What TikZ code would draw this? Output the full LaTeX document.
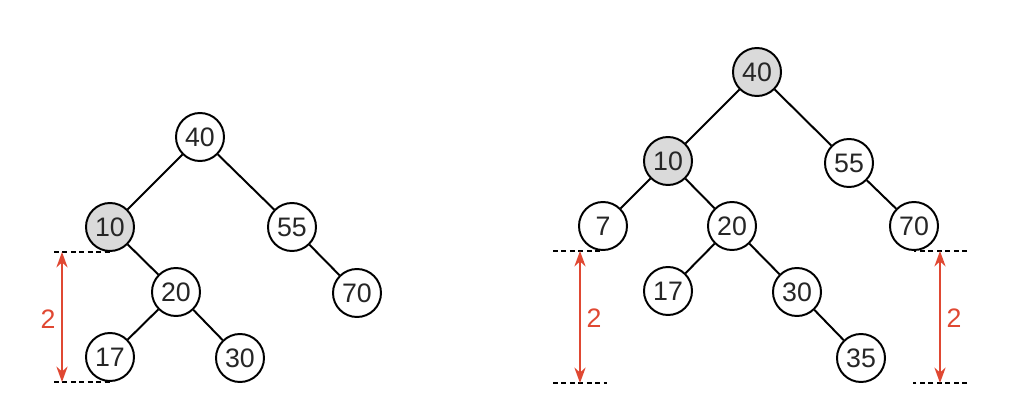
\documentclass[tikz,border=0pt]{standalone}
\usepackage{fontspec}
\setmainfont{Liberation Sans}
\usetikzlibrary{arrows.meta}
\definecolor{hred}{RGB}{224,72,50}
\definecolor{hgray}{RGB}{218,218,218}

\begin{document}
\begin{tikzpicture}[x=0.025cm, y=-0.025cm,
    key/.style={draw, circle, line width=1.4pt, minimum size=1.2cm, inner sep=0pt,
                fill=#1, font=\fontsize{19}{22}\selectfont, text=black!85},
    key/.default=white,
    edge/.style={line width=1.4pt},
    level/.style={line width=0.9pt, dash pattern=on 3.5pt off 2.5pt},
    height/.style={{Stealth[length=11pt,width=8pt]}-{Stealth[length=11pt,width=8pt]},
                   hred, line width=1.2pt},
    hlabel/.style={text=hred, font=\fontsize{19}{22}\selectfont}
  ]
  \useasboundingbox (0,0) rectangle (1034,406);

  % Left tree
  \node[key] (l40) at (200,137) {40};
  \node[key=hgray] (l10) at (110,227) {10};
  \node[key] (l55) at (292,227) {55};
  \node[key] (l20) at (176,292) {20};
  \node[key] (l70) at (357,293) {70};
  \node[key] (l17) at (110,357) {17};
  \node[key] (l30) at (240,358) {30};

  \draw[edge] (l40) -- (l10);
  \draw[edge] (l40) -- (l55);
  \draw[edge] (l10) -- (l20);
  \draw[edge] (l55) -- (l70);
  \draw[edge] (l20) -- (l17);
  \draw[edge] (l20) -- (l30);

  % Left height marker
  \coordinate (lt) at (54,252);
  \coordinate (lb) at (54,382);
  \draw[level] (lt) -- (lt -| l10.south);
  \draw[level] (lb) -- (lb -| l17.south);
  \draw[height] (62,252) -- (62,382);
  \node[hlabel] (lh) at (48,319) {2};

  % Right tree
  \node[key=hgray] (r40) at (757,72) {40};
  \node[key=hgray] (r10) at (668,161) {10};
  \node[key] (r55) at (849,163) {55};
  \node[key] (r7) at (603,226) {7};
  \node[key] (r20) at (732,226) {20};
  \node[key] (r70) at (914,226) {70};
  \node[key] (r17) at (668,291) {17};
  \node[key] (r30) at (797,292) {30};
  \node[key] (r35) at (861,358) {35};

  \draw[edge] (r40) -- (r10);
  \draw[edge] (r40) -- (r55);
  \draw[edge] (r10) -- (r7);
  \draw[edge] (r10) -- (r20);
  \draw[edge] (r55) -- (r70);
  \draw[edge] (r20) -- (r17);
  \draw[edge] (r20) -- (r30);
  \draw[edge] (r30) -- (r35);

  % Right height markers
  \coordinate (rlt) at (553,251);
  \coordinate (rlb) at (553,383);
  \coordinate (rrt) at (967,251);
  \coordinate (rrb) at (967,383);
  \draw[level] (rlt) -- (rlt -| r7.south);
  \draw[level] (rlb) -- ++(54,0);
  \draw[level] (rrt) -- (rrt -| r70.south);
  \draw[level] (rrb) -- ++(-54,0);
  \draw[height] (580,251) -- (580,383);
  \draw[height] (940,251) -- (940,383);
  \node[hlabel] (rlh) at (594,318) {2};
  \node[hlabel] (rrh) at (954,318) {2};

\end{tikzpicture}
\end{document}
